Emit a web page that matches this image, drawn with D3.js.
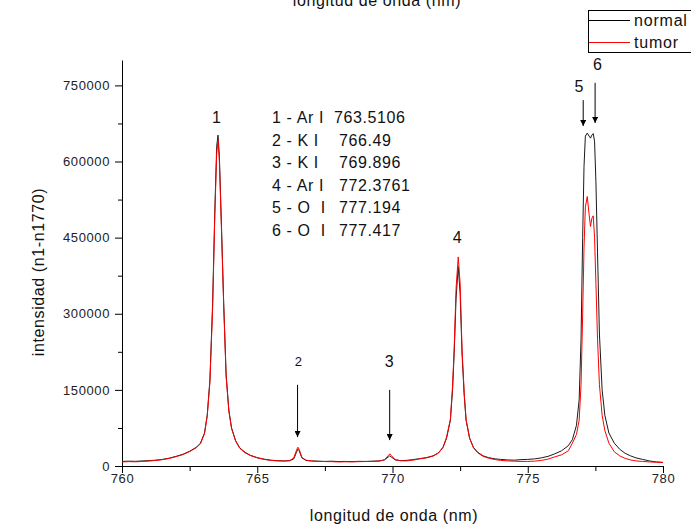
<!DOCTYPE html>
<html lang="es">
<head>
    <meta charset="UTF-8">
    <title>espectro</title>
    <script src="https://d3js.org/d3.v7.min.js"></script>
    <style>
        html, body {
            margin: 0;
            padding: 0;
            background: white;
            font-family: Arial, "Liberation Sans", sans-serif;
        }
        svg { display: block; }
        .tick text { font-size: 13px; letter-spacing: 0.6px; fill: #222; font-family: Arial, "Liberation Sans", sans-serif; }
        .txt { font-size: 16px; letter-spacing: 0.6px; fill: #111; }
    </style>
</head>
<body>
<script>
    // longitud de onda (nm)
    const wl = [
        760.0, 760.25, 760.5, 760.75, 761.0, 761.25, 761.5, 761.75, 762.0, 762.25,
        762.5, 762.75, 762.9, 763.05, 763.15, 763.25, 763.35, 763.43, 763.5, 763.55,
        763.6, 763.68, 763.76, 763.85, 763.95, 764.05, 764.2, 764.35, 764.55, 764.75,
        765.0, 765.25, 765.5, 765.75, 766.0, 766.2, 766.35, 766.45, 766.5, 766.55,
        766.65, 766.8, 767.0, 767.25, 767.5, 767.75, 768.0, 768.25, 768.5, 768.75,
        769.0, 769.25, 769.5, 769.7, 769.85, 769.9, 769.95, 770.1, 770.3, 770.5,
        770.75, 771.0, 771.25, 771.5, 771.7, 771.87, 772.0, 772.14, 772.22, 772.28,
        772.35, 772.43, 772.5, 772.57, 772.65, 772.72, 772.85, 772.99, 773.15, 773.35,
        773.55, 773.8, 774.0, 774.25, 774.5, 774.75, 775.0, 775.25, 775.5, 775.75,
        776.0, 776.25, 776.5, 776.65, 776.8, 776.9, 776.97, 777.03, 777.08, 777.13,
        777.2, 777.27, 777.32, 777.37, 777.42, 777.47, 777.52, 777.58, 777.65, 777.75,
        777.85, 778.0, 778.2, 778.4, 778.6, 778.8, 779.0, 779.25, 779.5, 779.75,
        780.0
    ];

    const normal = [
        9000, 9500, 9200, 10000, 10500, 11500, 13000, 15500, 19000, 23000,
        29000, 37000, 45000, 65000, 100000, 170000, 320000, 500000, 630000, 652000,
        610000, 470000, 320000, 180000, 110000, 75000, 50000, 36000, 27000, 21000,
        16500, 13500, 11500, 10500, 10000, 10500, 14000, 27000, 33000, 30000,
        16000, 11000, 10000, 9500, 9000, 9500, 8800, 9000, 8500, 9200,
        9000, 9500, 10000, 12000, 18000, 20000, 18000, 12000, 10500, 11000,
        12500, 14500, 16500, 20000, 26000, 37000, 55000, 90000, 150000, 222000,
        330000, 393000, 340000, 222000, 140000, 90000, 55000, 37000, 27000, 20000,
        16500, 14000, 13000, 12000, 11500, 12500, 13000, 14000, 16000, 19000,
        24000, 30000, 40000, 52000, 80000, 130000, 250000, 450000, 590000, 650000,
        656000, 650000, 646000, 652000, 655000, 640000, 560000, 420000, 260000, 150000,
        100000, 65000, 45000, 33000, 25000, 20000, 16000, 13000, 10000, 8000,
        7000
    ];

    const tumor = [
        8000, 8600, 8300, 9000, 9800, 11000, 12500, 15000, 18500, 22500,
        28500, 36000, 44000, 64000, 98000, 165000, 310000, 490000, 615000, 642000,
        600000, 460000, 315000, 175000, 108000, 74000, 49000, 35000, 26000, 20500,
        16000, 13000, 11000, 10000, 9800, 10500, 16000, 31000, 37000, 33000,
        17000, 11500, 10000, 9000, 8800, 8500, 8000, 8300, 8200, 8500,
        8800, 9000, 9500, 12000, 21000, 24000, 21000, 12500, 10500, 10000,
        11500, 14000, 16000, 19500, 25500, 37000, 57000, 92000, 158000, 232000,
        350000, 412000, 360000, 232000, 145000, 92000, 55000, 36000, 26000, 19000,
        15500, 12500, 11000, 10000, 9500, 9000, 9000, 9500, 11000, 13500,
        18000, 22000, 30000, 45000, 62000, 90000, 160000, 300000, 430000, 510000,
        531000, 495000, 472000, 488000, 493000, 450000, 360000, 250000, 160000, 100000,
        70000, 45000, 28000, 20000, 15000, 12000, 10000, 9000, 8000, 7500,
        7000
    ];

    const xTicks = [760, 765, 770, 775, 780];
    const xMinor = [762.5, 767.5, 772.5, 777.5];
    const yTicks = [0, 150000, 300000, 450000, 600000, 750000];
    const yMinor = [75000, 225000, 375000, 525000, 675000];

    // tabla de lineas
    const lineNames = ["1 - Ar I", "2 - K I", "3 - K I", "4 - Ar I", "5 - O  I", "6 - O  I"];
    const lineValues = ["763.5106", "766.49", "769.896", "772.3761", "777.194", "777.417"];

    // numeros sobre los picos: [nm, intensidad]
    const peakLabels = ["1", "2", "3", "4", "5", "6"];
    const peakLabelPos = [[763.5, 676000], [766.53, 197000], [769.89, 195000],
        [772.4, 440000], [776.9, 737000], [777.59, 780000]];

    // flechas: nm, inicio, punta
    const arrowNames = ["2", "3", "5", "6"];
    const arrowX = [766.49, 769.896, 777.05, 777.49];
    const arrowFrom = [160000, 150000, 721000, 755000];
    const arrowTo = [57000, 51000, 670000, 676000];

    const width = 691, height = 528;

    const x = d3.scaleLinear().domain([760, 780]).range([122, 663]);
    const y = d3.scaleLinear().domain([0, 800000]).range([466, 60]);

    const svg = d3.select("body").append("svg")
        .attr("width", width)
        .attr("height", height);

    // titulo cortado arriba
    svg.append("text")
        .attr("class", "txt")
        .attr("x", 377).attr("y", 6)
        .attr("text-anchor", "middle")
        .text("longitud de onda (nm)");

    // ejes
    const gx = svg.append("g")
        .attr("transform", `translate(0,${y(0)})`)
        .call(d3.axisBottom(x).tickValues(xTicks).tickSize(7).tickSizeOuter(0).tickPadding(1)
            .tickFormat(d3.format("d")));
    svg.append("g")
        .attr("transform", `translate(0,${y(0)})`)
        .call(d3.axisBottom(x).tickValues(xMinor).tickSize(5).tickFormat(""))
        .select(".domain").remove();

    const gy = svg.append("g")
        .attr("transform", `translate(${x(760)},0)`)
        .call(d3.axisLeft(y).tickValues(yTicks).tickSize(7).tickSizeOuter(0).tickPadding(5)
            .tickFormat(d3.format("d")));
    svg.append("g")
        .attr("transform", `translate(${x(760)},0)`)
        .call(d3.axisLeft(y).tickValues(yMinor).tickSize(4).tickFormat(""))
        .select(".domain").remove();

    svg.selectAll(".domain, .tick line").attr("stroke", "#000");

    svg.append("text")
        .attr("class", "txt")
        .attr("text-anchor", "middle")
        .attr("x", 394).attr("y", 521)
        .text("longitud de onda (nm)");

    svg.append("text")
        .attr("class", "txt")
        .attr("text-anchor", "middle")
        .attr("transform", "translate(44,272) rotate(-90)")
        .text("intensidad (n1-n1770)");

    // espectros
    const line = vals => d3.line()
        .x((d, i) => x(wl[i]))
        .y(d => y(d))(vals);

    svg.append("path")
        .attr("d", line(normal))
        .attr("fill", "none")
        .attr("stroke", "#1a1a1a")
        .attr("stroke-width", 1);

    svg.append("path")
        .attr("d", line(tumor))
        .attr("fill", "none")
        .attr("stroke", "#ff0000")
        .attr("stroke-width", 1);

    // flechas
    svg.append("defs").append("marker")
        .attr("id", "head")
        .attr("viewBox", "0 0 10 10")
        .attr("refX", 10).attr("refY", 5)
        .attr("markerWidth", 8).attr("markerHeight", 6)
        .attr("markerUnits", "userSpaceOnUse")
        .attr("orient", "auto")
        .append("path")
        .attr("d", "M0,0L10,5L0,10Z")
        .attr("fill", "#000");

    svg.append("g").selectAll("line")
        .data(arrowNames)
        .join("line")
        .attr("x1", (d, i) => x(arrowX[i]))
        .attr("x2", (d, i) => x(arrowX[i]))
        .attr("y1", (d, i) => y(arrowFrom[i]))
        .attr("y2", (d, i) => y(arrowTo[i]))
        .attr("stroke", "#000")
        .attr("stroke-width", 1)
        .attr("marker-end", "url(#head)");

    svg.append("g").selectAll("text")
        .data(peakLabels)
        .join("text")
        .attr("class", "txt")
        .attr("text-anchor", "middle")
        .attr("x", (d, i) => x(peakLabelPos[i][0]))
        .attr("y", (d, i) => y(peakLabelPos[i][1]))
        .style("font-size", d => d === "2" ? "13px" : "16px")
        .text(d => d);

    // tabla de lineas
    const rows = svg.append("g").selectAll("g")
        .data(lineNames)
        .join("g")
        .attr("transform", (d, i) => `translate(0,${123 + i * 22.5})`);

    rows.append("text")
        .attr("class", "txt")
        .attr("x", 272)
        .style("white-space", "pre")
        .text(d => d);

    rows.append("text")
        .attr("class", "txt")
        .attr("x", (d, i) => i === 0 ? 334 : 339)
        .text((d, i) => lineValues[i]);

    // leyenda
    const legend = svg.append("g");
    legend.append("rect")
        .attr("x", 588.5).attr("y", 10.5)
        .attr("width", 130).attr("height", 42)
        .attr("fill", "white")
        .attr("stroke", "#000");

    const legendNames = ["normal", "tumor"];
    const legendColors = ["#000", "#ff0000"];
    legend.selectAll("line")
        .data(legendNames)
        .join("line")
        .attr("x1", 589).attr("x2", 630)
        .attr("y1", (d, i) => 20.5 + i * 22)
        .attr("y2", (d, i) => 20.5 + i * 22)
        .attr("stroke", (d, i) => legendColors[i]);

    legend.selectAll("text")
        .data(legendNames)
        .join("text")
        .attr("class", "txt")
        .attr("x", 634)
        .attr("y", (d, i) => 26 + i * 22)
        .style("letter-spacing", "0.8px")
        .text(d => d);
</script>
</body>
</html>
